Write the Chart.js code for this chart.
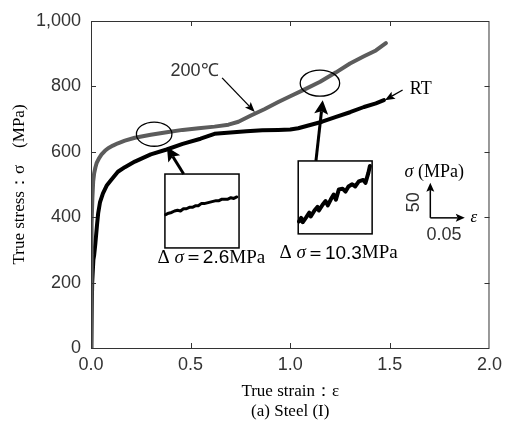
<!DOCTYPE html>
<html>
<head>
<meta charset="utf-8">
<script src="https://cdn.jsdelivr.net/npm/chart.js@4.4.0/dist/chart.umd.min.js"></script>
<style>
  html, body { margin: 0; padding: 0; background: #fff; }
</style>
</head>
<body>
<canvas id="chart" width="508" height="424"></canvas>
<script>
// --- data ---
const strainRT = [0, 0.006, 0.012, 0.016, 0.022, 0.03, 0.036, 0.045, 0.06, 0.08, 0.1, 0.135, 0.17, 0.22, 0.3, 0.38, 0.46, 0.55, 0.62, 0.7, 0.78, 0.86, 0.94, 1.0, 1.04, 1.1, 1.16, 1.23, 1.3, 1.37, 1.43, 1.47];
const stressRT = [0, 200, 270, 285, 320, 375, 412, 445, 473, 498, 513, 539, 553, 570, 592, 607, 624, 640, 655, 659, 663, 666, 667, 668, 672, 682, 692, 707, 721, 737, 748, 758];

const strain200 = [0, 0.002, 0.004, 0.007, 0.011, 0.016, 0.022, 0.028, 0.04, 0.053, 0.07, 0.086, 0.11, 0.135, 0.17, 0.22, 0.3, 0.38, 0.46, 0.54, 0.62, 0.69, 0.74, 0.8, 0.87, 0.94, 1.0, 1.07, 1.15, 1.23, 1.3, 1.37, 1.43, 1.48];
const stress200 = [0, 200, 380, 460, 510, 535, 552, 565, 580, 592, 603, 611, 619, 626, 634, 643, 652, 660, 667, 672, 677, 683, 692, 710, 730, 752, 770, 790, 814, 843, 870, 892, 910, 932];

// enlarged views (strain offset 0-0.1, stress offset 0-100 MPa inside each box)
const inset1Strain = [0.001, 0.005, 0.009, 0.013, 0.017, 0.021, 0.025, 0.029, 0.033, 0.037, 0.041, 0.045, 0.049, 0.053, 0.057, 0.061, 0.065, 0.069, 0.073, 0.077, 0.081, 0.085, 0.089, 0.093, 0.097];
const inset1Stress = [45, 47, 48, 50, 51, 50, 53, 53, 55, 55, 57, 57, 60, 60, 61, 62, 63, 64, 64, 66, 66, 66, 68, 67, 69];
const inset2Strain = [0.001, 0.004, 0.006, 0.011, 0.015, 0.017, 0.022, 0.026, 0.028, 0.033, 0.037, 0.040, 0.044, 0.048, 0.051, 0.055, 0.060, 0.064, 0.068, 0.073, 0.077, 0.082, 0.088, 0.091, 0.095, 0.097];
const inset2Stress = [17, 22, 16, 23, 29, 24, 32, 37, 32, 40, 45, 39, 47, 54, 47, 61, 62, 58, 65, 68, 65, 72, 74, 70, 84, 93];

const xTicks = [0, 0.5, 1.0, 1.5, 2.0];
const yTicks = [0, 200, 400, 600, 800, 1000];

// boxes for the enlarged views, in main axis units
const box1 = { e0: 0.371, e1: 0.743, s0: 306, s1: 532 };
const box2 = { e0: 1.04, e1: 1.411, s0: 349, s1: 572 };

const SANS = '"Liberation Sans", Arial, sans-serif';
const SERIF = '"Liberation Serif", "Times New Roman", serif';

function toPoints(xs, ys) {
	return xs.map((v, i) => ({ x: v, y: ys[i] }));
}
function toBox(xs, ys, b) {
	return xs.map((v, i) => ({
		x: b.e0 + (v / 0.1) * (b.e1 - b.e0),
		y: b.s0 + (ys[i] / 100) * (b.s1 - b.s0),
	}));
}

function arrow(ctx, x1, y1, x2, y2, lw, len, wid) {
	const a = Math.atan2(y2 - y1, x2 - x1);
	const bx = x2 - Math.cos(a) * len * 0.8, by = y2 - Math.sin(a) * len * 0.8;
	ctx.lineWidth = lw;
	ctx.beginPath();
	ctx.moveTo(x1, y1);
	ctx.lineTo(bx, by);
	ctx.stroke();
	const px = -Math.sin(a), py = Math.cos(a);
	const hx = x2 - Math.cos(a) * len, hy = y2 - Math.sin(a) * len;
	ctx.beginPath();
	ctx.moveTo(x2, y2);
	ctx.lineTo(hx + px * wid, hy + py * wid);
	ctx.lineTo(bx, by);
	ctx.lineTo(hx - px * wid, hy - py * wid);
	ctx.closePath();
	ctx.fill();
}

// draw pieces of text with different fonts, centred on cx
function richText(ctx, parts, cx, cy) {
	let w = 0;
	parts.forEach(p => { ctx.font = p[1]; w += ctx.measureText(p[0]).width; });
	let x = cx - w / 2;
	ctx.textAlign = 'left';
	ctx.textBaseline = 'middle';
	parts.forEach(p => {
		ctx.font = p[1];
		ctx.fillText(p[0], x, cy);
		x += ctx.measureText(p[0]).width;
	});
}

const decor = {
	id: 'decor',
	afterDatasetsDraw(chart) {
		const { ctx, chartArea: a, scales: { x, y } } = chart;
		const P = (e, s) => [x.getPixelForValue(e), y.getPixelForValue(s)];
		ctx.save();

		// frame with inward ticks on all four sides
		ctx.strokeStyle = '#333';
		ctx.lineWidth = 1;
		ctx.strokeRect(a.left + 0.5, a.top + 0.5, a.right - a.left - 1, a.bottom - a.top);
		ctx.beginPath();
		xTicks.slice(1, -1).forEach(v => {
			const px = Math.round(x.getPixelForValue(v)) + 0.5;
			ctx.moveTo(px, a.bottom); ctx.lineTo(px, a.bottom - 5);
			ctx.moveTo(px, a.top); ctx.lineTo(px, a.top + 5);
		});
		yTicks.slice(1, -1).forEach(v => {
			const py = Math.round(y.getPixelForValue(v)) + 0.5;
			ctx.moveTo(a.left, py); ctx.lineTo(a.left + 5, py);
			ctx.moveTo(a.right, py); ctx.lineTo(a.right - 5, py);
		});
		ctx.stroke();

		ctx.strokeStyle = '#000';
		ctx.fillStyle = '#000';

		// boxes
		ctx.lineWidth = 1.5;
		[box1, box2].forEach(b => {
			const [l, t] = P(b.e0, b.s1);
			const [r, bt] = P(b.e1, b.s0);
			ctx.strokeRect(l, t, r - l, bt - t);
		});

		// ellipses marking the enlarged regions
		ctx.lineWidth = 1.3;
		[[0.317, 654, 0.089, 37], [1.149, 810, 0.099, 40]].forEach(([e, s, re, rs]) => {
			const [cx, cy] = P(e, s);
			const rx = x.getPixelForValue(e + re) - cx;
			const ry = cy - y.getPixelForValue(s + rs);
			ctx.beginPath();
			ctx.ellipse(cx, cy, rx, ry, 0, 0, Math.PI * 2);
			ctx.stroke();
		});

		// thick arrows from boxes to ellipses
		arrow(ctx, ...P(0.465, 532), ...P(0.381, 615), 3, 14, 7);
		arrow(ctx, ...P(1.129, 572), ...P(1.163, 758), 3, 14, 7);

		// curve labels
		arrow(ctx, ...P(0.658, 826), ...P(0.822, 722), 1.3, 10, 4);
		arrow(ctx, ...P(1.564, 789), ...P(1.475, 758), 1.3, 10, 4);

		ctx.fillStyle = '#333';
		ctx.font = '18px ' + SANS;
		ctx.textAlign = 'center';
		ctx.textBaseline = 'middle';
		ctx.fillText('200℃', ...P(0.52, 846));
		ctx.fillStyle = '#000';
		ctx.font = '18px ' + SERIF;
		ctx.textAlign = 'left';
		ctx.fillText('RT', ...P(1.6, 792));

		richText(ctx, [['Δ ', '19px ' + SERIF], ['σ', 'italic 19px ' + SERIF], ['＝2.6', '19px ' + SANS], ['MPa', '19px ' + SERIF]], ...P(0.604, 276));
		richText(ctx, [['Δ ', '19px ' + SERIF], ['σ', 'italic 19px ' + SERIF], ['＝10.3', '19px ' + SANS], ['MPa', '19px ' + SERIF]], ...P(1.243, 289));

		// scale bar for the enlarged views
		const [ox, oy] = P(1.703, 398);
		arrow(ctx, ox, oy, ...P(1.703, 505), 1.5, 9, 4);
		arrow(ctx, ox, oy, ...P(1.876, 398), 1.5, 9, 4);
		richText(ctx, [['σ', 'italic 18px ' + SERIF], [' (MPa)', '18px ' + SERIF]], ...P(1.723, 538));
		richText(ctx, [['ε', 'italic 17px ' + SERIF]], ...P(1.921, 398));
		ctx.fillStyle = '#333';
		ctx.font = '18px ' + SANS;
		ctx.textAlign = 'center';
		ctx.fillText('0.05', ...P(1.772, 344));
		const [fx, fy] = P(1.619, 446);
		ctx.translate(fx, fy);
		ctx.rotate(-Math.PI / 2);
		ctx.fillText('50', 0, 0);

		ctx.restore();
	},
};

const ctx = document.getElementById('chart').getContext('2d');
new Chart(ctx, {
	type: 'line',
	data: {
		datasets: [
			{ label: '200℃', data: toPoints(strain200, stress200), borderColor: '#5c5c5c', borderWidth: 4 },
			{ label: 'RT', data: toPoints(strainRT, stressRT), borderColor: '#000', borderWidth: 4 },
			{ label: 'inset1', data: toBox(inset1Strain, inset1Stress, box1), borderColor: '#000', borderWidth: 3 },
			{ label: 'inset2', data: toBox(inset2Strain, inset2Stress, box2), borderColor: '#000', borderWidth: 4 },
		],
	},
	options: {
		responsive: false,
		animation: false,
		parsing: false,
		elements: { point: { radius: 0 }, line: { tension: 0, borderJoinStyle: 'round', borderCapStyle: 'round' } },
		layout: { padding: { left: 0, right: 13, top: 21, bottom: 0 } },
		plugins: { legend: { display: false }, tooltip: { enabled: false } },
		scales: {
			x: {
				type: 'linear',
				min: 0,
				max: 2,
				afterFit: s => { s.height = 76; },
				afterBuildTicks: s => { s.ticks = xTicks.map(v => ({ value: v })); },
				grid: { display: false, drawTicks: false },
				border: { display: false },
				ticks: { color: '#333', padding: 6, font: { family: SANS, size: 18 }, callback: v => v.toFixed(1) },
				title: {
					display: true,
					text: ['True strain：ε', '(a) Steel (I)'],
					color: '#000',
					font: { family: SERIF, size: 17, lineHeight: 1.2 },
					padding: { top: 0, bottom: 2 },
				},
			},
			y: {
				type: 'linear',
				min: 0,
				max: 1000,
				afterFit: s => { s.width = 91; },
				afterBuildTicks: s => { s.ticks = yTicks.map(v => ({ value: v })); },
				grid: { display: false, drawTicks: false },
				border: { display: false },
				ticks: { color: '#333', padding: 10, font: { family: SANS, size: 18 }, callback: v => v.toLocaleString('en-US') },
				title: {
					display: true,
					text: 'True stress：σ　(MPa)',
					color: '#000',
					font: { family: SERIF, size: 17, lineHeight: 1.2 },
					padding: { top: 9, bottom: 0 },
				},
			},
		},
	},
	plugins: [decor],
});
</script>
</body>
</html>
